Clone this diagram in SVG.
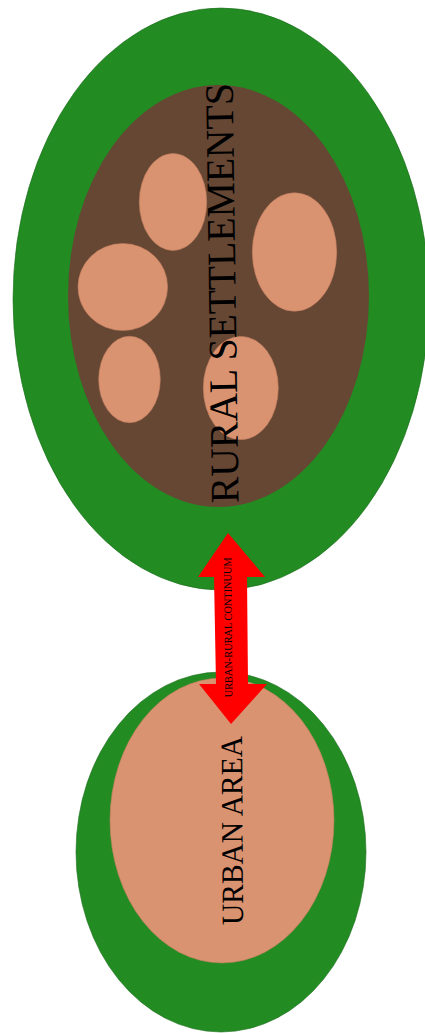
<svg xmlns="http://www.w3.org/2000/svg" width="425" height="1033" viewBox="0 0 425 1033">
<style>
.green{fill:#228b22;stroke:#1d6b1d;stroke-width:0.6}
.brown{fill:#664734}
.salmon{fill:#d99370;stroke:#c4805f;stroke-width:0.6}
.lbl{font-family:"Liberation Serif","Times New Roman",serif;fill:#000}
</style>
<rect width="425" height="1033" fill="#fff"/>
<g id="rural">
<ellipse class="green" cx="221" cy="299" rx="208" ry="291"/>
<ellipse class="brown" cx="218.5" cy="296" rx="150.5" ry="211"/>
<ellipse class="salmon" cx="173" cy="202" rx="33.7" ry="48.4"/>
<ellipse class="salmon" cx="294.5" cy="252" rx="42.2" ry="59.2"/>
<ellipse class="salmon" cx="122.8" cy="287" rx="44.8" ry="43.5"/>
<ellipse class="salmon" cx="129.5" cy="379.5" rx="30.8" ry="43.2"/>
<ellipse class="salmon" cx="240.8" cy="388" rx="37.5" ry="51.6"/>
<text class="lbl" font-size="40.5" textLength="420" lengthAdjust="spacingAndGlyphs" transform="translate(238.5,503) rotate(-90.8)">RURAL SETTLEMENTS</text>
</g>
<g id="urban">
<ellipse class="green" cx="221" cy="852" rx="145" ry="180"/>
<ellipse class="salmon" cx="222" cy="820.5" rx="112" ry="142.5"/>
<text class="lbl" font-size="31" textLength="189" lengthAdjust="spacingAndGlyphs" transform="translate(243,925) rotate(-90.3)">URBAN AREA</text>
</g>
<g id="connectors">
<polygon points="228,533 265,577 247,577 248,684 267,684 231,724 199,684 216,684 214,577 198,577" fill="#ff0000"/>
<text class="lbl" font-size="11" textLength="140" lengthAdjust="spacingAndGlyphs" transform="translate(232.3,697.3) rotate(-90.5)">URBAN-RURAL CONTINUUM</text>
</g>
</svg>
